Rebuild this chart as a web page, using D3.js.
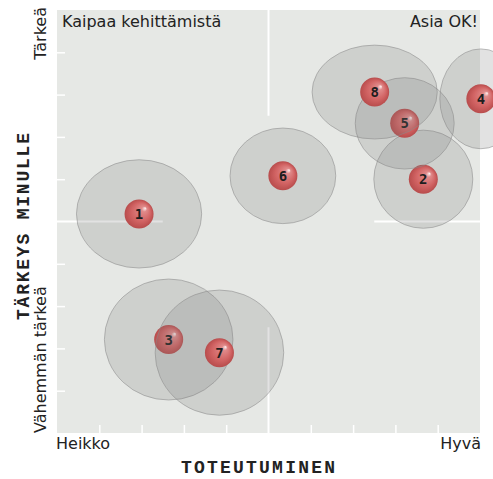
<!DOCTYPE html>
<html>
<head>
<meta charset="utf-8">
<script src="https://cdn.jsdelivr.net/npm/d3@7"></script>
<style>
  body { margin: 0; background: #fff; }
</style>
</head>
<body>
<svg></svg>
<script>
// data (0..10 on both axes)
var ids      = ["1", "2", "3", "4", "5", "6", "7", "8"];
var toteutus = [1.94, 8.66, 2.64, 10.02, 8.22, 5.34, 3.84, 7.51];   // x
var tarkeys  = [5.18, 6.00, 2.21, 7.90, 7.32, 6.08, 1.90, 8.06];    // y
var hajontaX = [1.48, 1.17, 1.52, 0.97, 1.17, 1.25, 1.52, 1.48];    // spread x
var hajontaY = [1.28, 1.16, 1.43, 1.18, 1.08, 1.13, 1.48, 1.11];    // spread y
var tickVals = [1, 2, 3, 4, 6, 7, 8, 9];

const width = 493;
const height = 479;

var svg = d3.select("svg")
    .attr("width", width)
    .attr("height", height);

var x = d3.scaleLinear().domain([0, 10]).range([57, 480]);
var y = d3.scaleLinear().domain([0, 10]).range([433, 10]);

// gradient for the red balls
var defs = svg.append("defs");
var grad = defs.append("radialGradient")
    .attr("id", "ball")
    .attr("cx", "50%").attr("cy", "50%").attr("r", "50%")
    .attr("fx", "72%").attr("fy", "30%");
grad.append("stop").attr("offset", "0%").attr("stop-color", "#fff4f4");
grad.append("stop").attr("offset", "18%").attr("stop-color", "#e08a8a");
grad.append("stop").attr("offset", "65%").attr("stop-color", "#d26464");
grad.append("stop").attr("offset", "100%").attr("stop-color", "#b84c4c");

// plot background
svg.append("rect")
    .attr("x", x(0)).attr("y", y(10))
    .attr("width", x(10) - x(0))
    .attr("height", y(0) - y(10))
    .attr("fill", "#e6e8e5");

// centre cross, only the outer quarters
var grid = svg.append("g")
    .attr("stroke", "#fff")
    .attr("stroke-width", 2);
grid.append("line").attr("x1", x(5)).attr("x2", x(5)).attr("y1", y(10)).attr("y2", y(7.5));
grid.append("line").attr("x1", x(5)).attr("x2", x(5)).attr("y1", y(2.5)).attr("y2", y(0));
grid.append("line").attr("y1", y(5)).attr("y2", y(5)).attr("x1", x(0)).attr("x2", x(2.5));
grid.append("line").attr("y1", y(5)).attr("y2", y(5)).attr("x1", x(7.5)).attr("x2", x(10));

// small white ticks inside the plot
var xAxis = svg.append("g")
    .attr("transform", "translate(0," + y(0) + ")")
    .call(d3.axisBottom(x).tickValues(tickVals).tickSize(-8).tickFormat(""));
var yAxis = svg.append("g")
    .attr("transform", "translate(" + x(0) + ",0)")
    .call(d3.axisLeft(y).tickValues(tickVals).tickSize(-8).tickFormat(""));
svg.selectAll(".domain").remove();
svg.selectAll(".tick line").attr("stroke", "#fff").attr("stroke-width", 1.5);

// texts
var sans = "DejaVu Sans";
var mono = "Liberation Mono";

svg.append("text").attr("x", 62).attr("y", 27)
    .attr("font-family", sans).attr("font-size", 16).attr("fill", "#222")
    .text("Kaipaa kehittämistä");
svg.append("text").attr("x", 478).attr("y", 27)
    .attr("text-anchor", "end")
    .attr("font-family", sans).attr("font-size", 16).attr("fill", "#222")
    .text("Asia OK!");

svg.append("text").attr("x", 56).attr("y", 449)
    .attr("font-family", sans).attr("font-size", 16).attr("fill", "#222")
    .text("Heikko");
svg.append("text").attr("x", 481).attr("y", 449)
    .attr("text-anchor", "end")
    .attr("font-family", sans).attr("font-size", 16).attr("fill", "#222")
    .text("Hyvä");
svg.append("text").attr("x", 181).attr("y", 473)
    .attr("font-family", mono).attr("font-weight", "bold").attr("font-size", 18)
    .attr("textLength", 154).attr("lengthAdjust", "spacing")
    .attr("fill", "#222")
    .text("TOTEUTUMINEN");

svg.append("text")
    .attr("transform", "translate(46,7) rotate(-90)")
    .attr("text-anchor", "end")
    .attr("font-family", sans).attr("font-size", 16).attr("fill", "#222")
    .text("Tärkeä");
svg.append("text")
    .attr("transform", "translate(46,433) rotate(-90)")
    .attr("text-anchor", "start")
    .attr("font-family", sans).attr("font-size", 16).attr("fill", "#222")
    .text("Vähemmän tärkeä");
svg.append("text")
    .attr("transform", "translate(29,320) rotate(-90)")
    .attr("font-family", mono).attr("font-weight", "bold").attr("font-size", 18)
    .attr("textLength", 187).attr("lengthAdjust", "spacing")
    .attr("fill", "#222")
    .text("TÄRKEYS MINULLE");

// ellipses + balls, drawn in order so later ellipses cover earlier balls
var data = ids.map(function(id, i) {
  return { id: id, x: toteutus[i], y: tarkeys[i], sx: hajontaX[i], sy: hajontaY[i] };
});

var items = svg.selectAll("g.item")
    .data(data)
    .enter()
    .append("g")
    .attr("class", "item");

items.append("ellipse")
    .attr("cx", function(d) { return x(d.x); })
    .attr("cy", function(d) { return y(d.y); })
    .attr("rx", function(d) { return x(d.sx) - x(0); })
    .attr("ry", function(d) { return y(0) - y(d.sy); })
    .attr("fill", "#7c7c7c")
    .attr("fill-opacity", 0.22)
    .attr("stroke", "#8a8a8a")
    .attr("stroke-opacity", 0.55)
    .attr("stroke-width", 1);

items.append("circle")
    .attr("cx", function(d) { return x(d.x); })
    .attr("cy", function(d) { return y(d.y); })
    .attr("r", 14.5)
    .attr("fill", "url(#ball)");

items.append("text")
    .attr("x", function(d) { return x(d.x); })
    .attr("y", function(d) { return y(d.y) + 5; })
    .attr("text-anchor", "middle")
    .attr("font-family", "DejaVu Sans Mono")
    .attr("font-weight", "bold")
    .attr("font-size", 14)
    .attr("fill", "#1e1e1e")
    .text(function(d) { return d.id; });
</script>
</body>
</html>
